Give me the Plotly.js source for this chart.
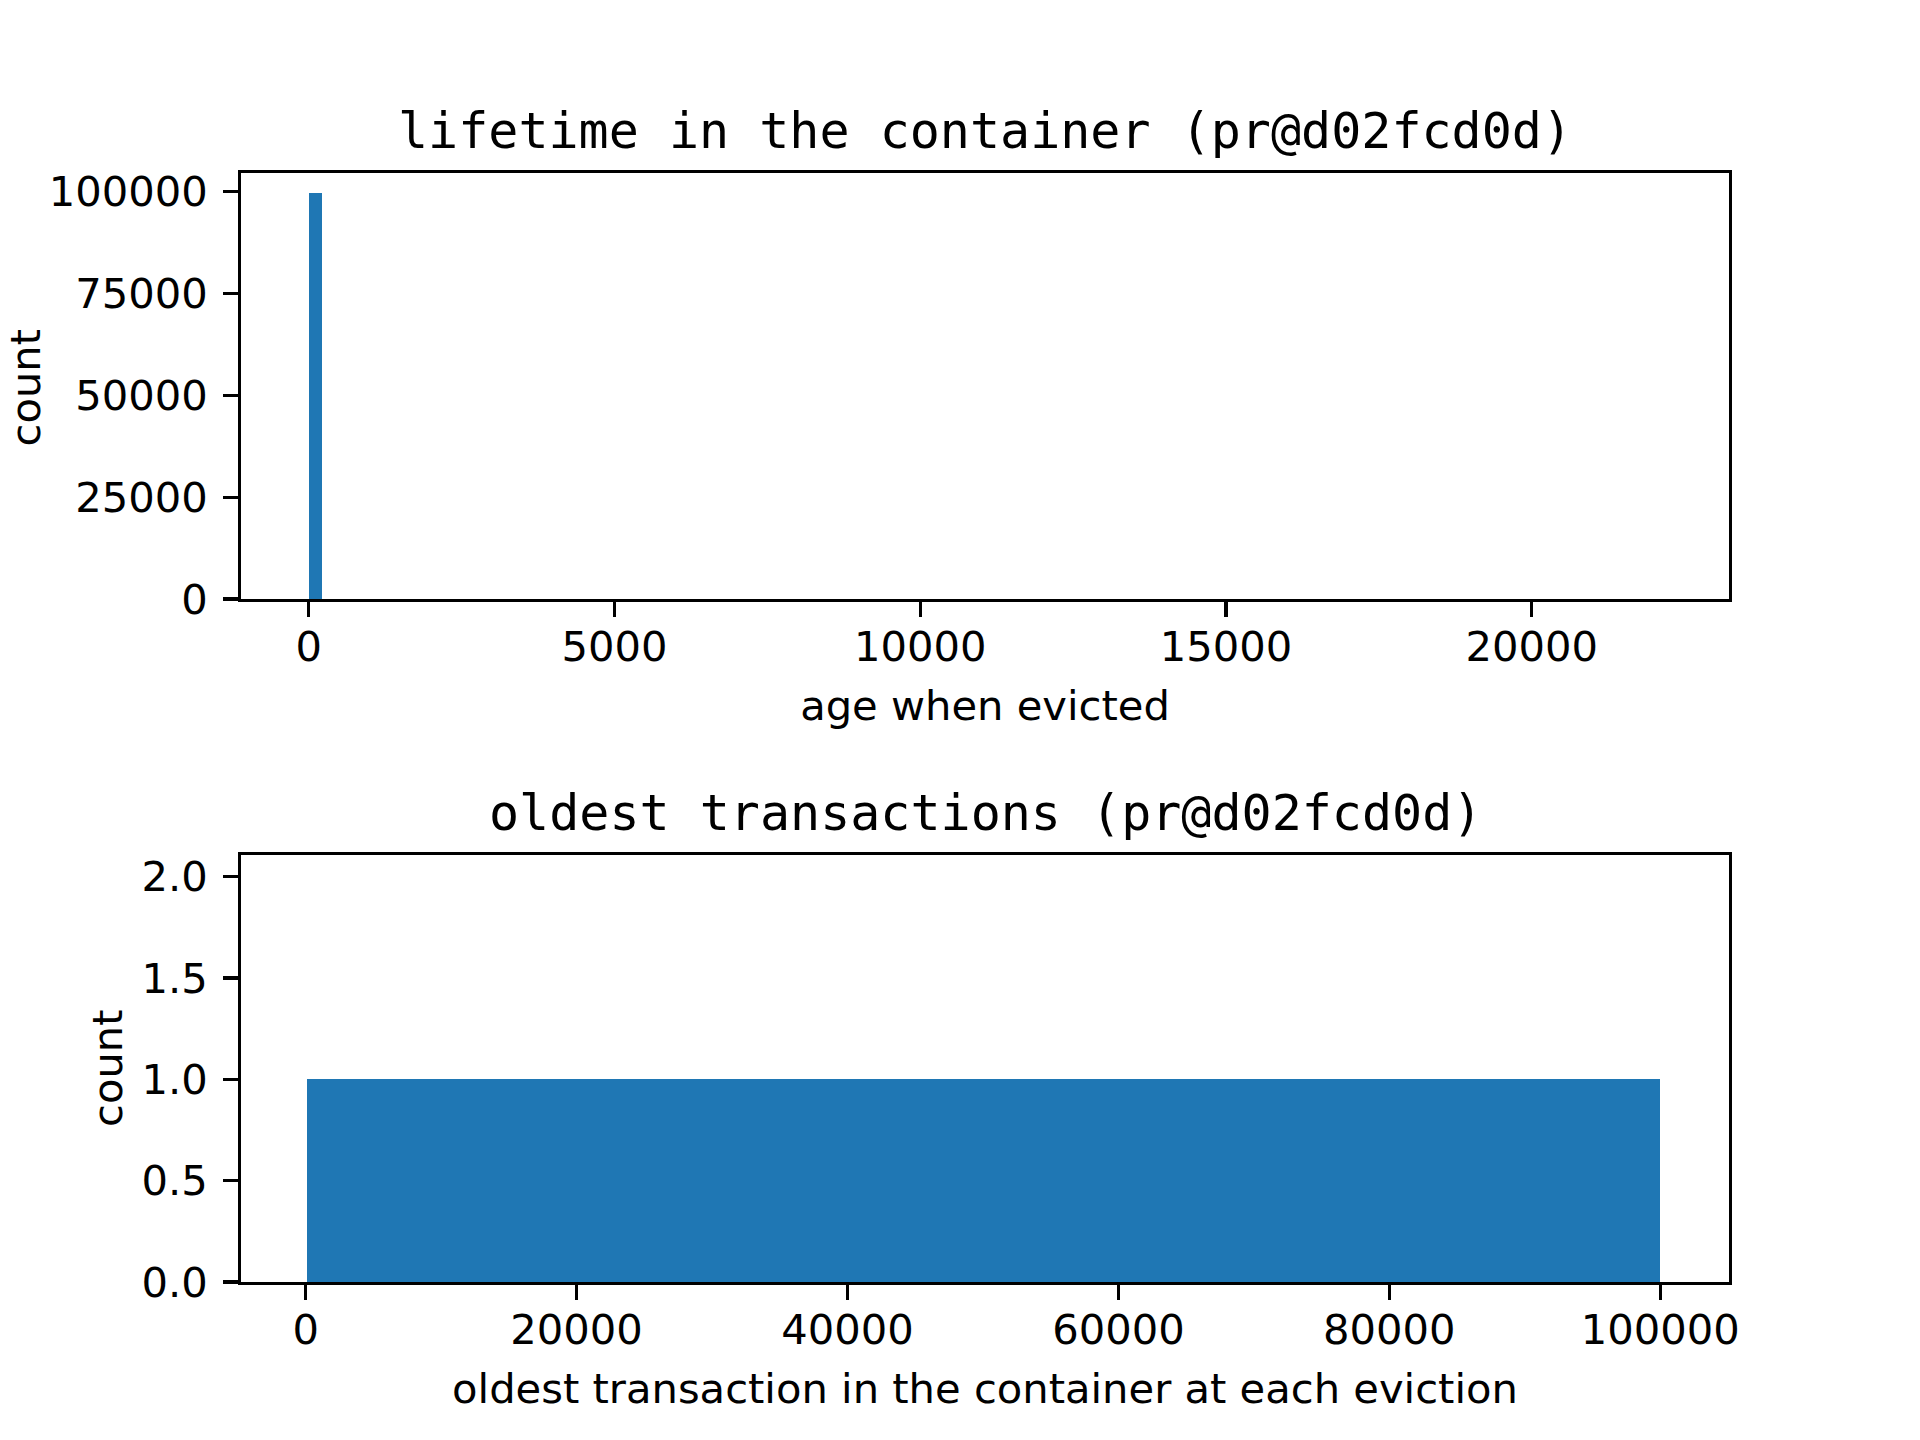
<!DOCTYPE html>
<html>
<head>
<meta charset="utf-8">
<script src="https://cdn.plot.ly/plotly-3.0.1.min.js"></script>
<style>html,body{margin:0;padding:0;background:#fff;}</style>
</head>
<body>
<div id="chart" style="width:1920px;height:1440px;"></div>
<script>
// Top histogram: lifetime in the container (age when evicted)
const lifetimeBinStart = [0, 21905];
const lifetimeBinWidth = [212, 212];
const lifetimeCounts = [99620, 1];

// Bottom histogram: oldest transaction in the container at each eviction
const oldestBinStart = [125];
const oldestBinWidth = [99855];
const oldestCounts = [1];

const topXTicks = [0, 5000, 10000, 15000, 20000];
const topYTicks = [0, 25000, 50000, 75000, 100000];
const botXTicks = [0, 20000, 40000, 60000, 80000, 100000];
const botYTicks = [0, 0.5, 1.0, 1.5, 2.0];

const titleTop = 'lifetime in the container (pr@d02fcd0d)';
const titleBottom = 'oldest transactions (pr@d02fcd0d)';
const yLabel = 'count';

const BLUE = '#1f77b4';
const LW = 3.33;
const TICKFONT = {family: 'DejaVu Sans, sans-serif', size: 41.67, color: '#000'};
const MONO = {family: 'DejaVu Sans Mono, monospace', size: 50, color: '#000'};

const traces = [
  {type: 'bar', x: lifetimeBinStart, y: lifetimeCounts, width: lifetimeBinWidth, offset: 0,
   marker: {color: BLUE, line: {width: 0}}, xaxis: 'x', yaxis: 'y', showlegend: false, hoverinfo: 'x+y'},
  {type: 'bar', x: oldestBinStart, y: oldestCounts, width: oldestBinWidth, offset: 0,
   marker: {color: BLUE, line: {width: 0}}, xaxis: 'x2', yaxis: 'y2', showlegend: false, hoverinfo: 'x+y'}
];

function ax(extra) {
  return Object.assign({
    showline: true, mirror: true, linecolor: '#000', linewidth: LW,
    ticks: 'outside', ticklen: 14.6, tickwidth: LW, tickcolor: '#000',
    showgrid: false, zeroline: false, automargin: false,
    tickfont: TICKFONT, fixedrange: true
  }, extra);
}

const layout = {
  width: 1920, height: 1440,
  margin: {l: 0, r: 0, t: 0, b: 0},
  paper_bgcolor: '#fff', plot_bgcolor: '#fff',
  bargap: 0,
  xaxis: ax({domain: [241/1920, 1729/1920], range: [-1107, 23224], tickvals: topXTicks,
    ticktext: topXTicks.map(String), anchor: 'y', ticklabelstandoff: -6,
    title: {text: 'age when evicted', font: TICKFONT, standoff: 22}}),
  yaxis: ax({domain: [1 - 599/1440, 1 - 173/1440], range: [0, 104600], tickvals: topYTicks,
    ticktext: topYTicks.map(String), anchor: 'x', ticklabelstandoff: 7}),
  xaxis2: ax({domain: [241/1920, 1729/1920], range: [-4771, 105072], tickvals: botXTicks,
    ticktext: botXTicks.map(String), anchor: 'y2', ticklabelstandoff: -6,
    title: {text: 'oldest transaction in the container at each eviction', font: TICKFONT, standoff: 22}}),
  yaxis2: ax({domain: [1 - 1282/1440, 1 - 855/1440], range: [0, 2.107], tickvals: botYTicks,
    ticktext: botYTicks.map(v => v.toFixed(1)), anchor: 'x2', ticklabelstandoff: 7}),
  annotations: [
    {text: titleTop, xref: 'paper', yref: 'paper', x: 985/1920, y: 1 - 131/1440,
     xanchor: 'center', yanchor: 'middle', showarrow: false, font: MONO},
    {text: titleBottom, xref: 'paper', yref: 'paper', x: 985/1920, y: 1 - 813/1440,
     xanchor: 'center', yanchor: 'middle', showarrow: false, font: MONO},
    {text: yLabel, xref: 'paper', yref: 'paper', x: 0, y: 1 - 388/1440, textangle: -90,
     xanchor: 'left', yanchor: 'middle', showarrow: false, font: TICKFONT, borderpad: 0},
    {text: yLabel, xref: 'paper', yref: 'paper', x: 107/1920, y: 1 - 1068/1440, textangle: -90,
     xanchor: 'center', yanchor: 'middle', showarrow: false, font: TICKFONT, borderpad: 0}
  ]
};

Plotly.newPlot('chart', traces, layout, {displayModeBar: false, staticPlot: true});
</script>
</body>
</html>
